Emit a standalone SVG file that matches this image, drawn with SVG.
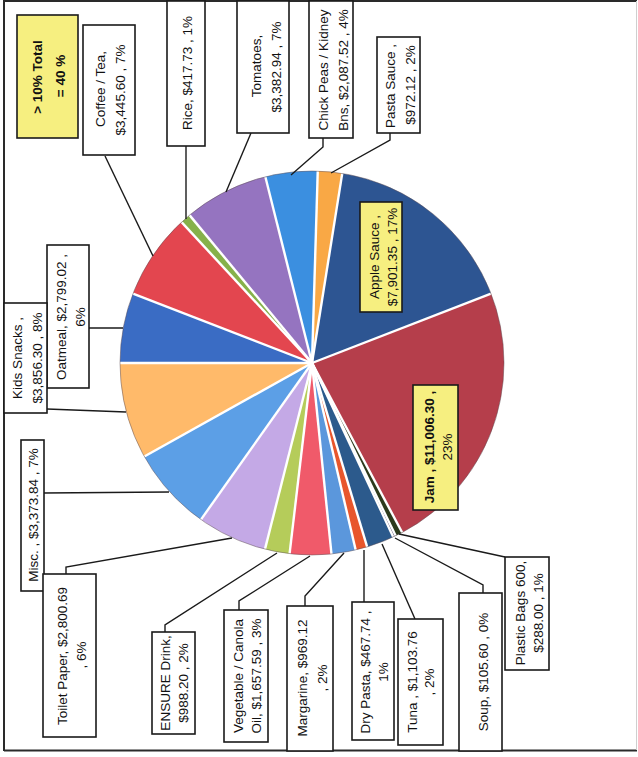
<svg xmlns="http://www.w3.org/2000/svg" width="638" height="757" viewBox="0 0 638 757">
<style>
.box{fill:#fff;stroke:#1a1a1a;stroke-width:1.6}
.ybox{fill:#f6ef80;stroke:#1a1a1a;stroke-width:1.6}
.t{font-family:"Liberation Sans",Arial,sans-serif;font-size:13.5px;fill:#111;text-anchor:middle;dominant-baseline:central}
.b{font-weight:bold}
.conn{fill:none;stroke:#1a1a1a;stroke-width:1.4}
.gap{stroke:#fff;stroke-width:2.4}
</style>
<rect width="638" height="757" fill="#fff"/>
<g id="frame" fill="none">
<path d="M4 751 L4 1 L637 1" stroke="#2a2a2a" stroke-width="2"/>
<path d="M4 750.5 L637 750.5" stroke="#2a2a2a" stroke-width="2.2"/>
<path d="M636.5 1 L636.5 750" stroke="#cfcfcf" stroke-width="1"/>
</g>
<g id="pie">
<path id="s-oatmeal" d="M312 363 L120 363 A192 192 0 0 1 132.95 293.69 Z" fill="#3a6cc4"/>
<path id="s-coffee" d="M312 363 L132.95 293.69 A192 192 0 0 1 181.56 222.11 Z" fill="#e3464f"/>
<path id="s-rice" d="M312 363 L181.56 222.11 A192 192 0 0 1 189.52 215.14 Z" fill="#86b14a"/>
<path id="s-tomatoes" d="M312 363 L189.52 215.14 A192 192 0 0 1 265.34 176.76 Z" fill="#9574c0"/>
<path id="s-chick" d="M312 363 L265.34 176.76 A192 192 0 0 1 317.75 171.09 Z" fill="#3b8fe0"/>
<path id="s-pasta" d="M312 363 L317.75 171.09 A192 192 0 0 1 342.25 173.40 Z" fill="#f9a845"/>
<path id="s-apple" d="M312 363 L342.25 173.40 A192 192 0 0 1 491.0 293.55 Z" fill="#2d5592"/>
<path id="s-jam" d="M312 363 L491.0 293.55 A192 192 0 0 1 402.17 532.51 Z" fill="#b53e4b"/>
<path id="s-plastic" d="M312 363 L402.17 532.51 A192 192 0 0 1 395.66 535.82 Z" fill="#2c3a1c"/>
<path id="s-soup" d="M312 363 L395.66 535.82 A192 192 0 0 1 393.24 536.97 Z" fill="#3a2a50"/>
<path id="s-tuna" d="M312 363 L393.24 536.97 A192 192 0 0 1 367.14 546.91 Z" fill="#2c5a8c"/>
<path id="s-drypasta" d="M312 363 L367.14 546.91 A192 192 0 0 1 355.69 549.96 Z" fill="#e8562c"/>
<path id="s-margarine" d="M312 363 L355.69 549.96 A192 192 0 0 1 331.50 554.01 Z" fill="#5b97dc"/>
<path id="s-vegoil" d="M312 363 L331.50 554.01 A192 192 0 0 1 289.59 553.69 Z" fill="#f05a6a"/>
<path id="s-ensure" d="M312 363 L289.59 553.69 A192 192 0 0 1 264.99 549.16 Z" fill="#b5cc5a"/>
<path id="s-toilet" d="M312 363 L264.99 549.16 A192 192 0 0 1 200.93 519.62 Z" fill="#c4a9e6"/>
<path id="s-misc" d="M312 363 L200.93 519.62 A192 192 0 0 1 144.32 456.53 Z" fill="#5c9fe6"/>
<path id="s-kids" d="M312 363 L144.32 456.53 A192 192 0 0 1 120 363 Z" fill="#ffba6a"/>
<g class="gap">
<line x1="312" y1="363" x2="120" y2="363"/>
<line x1="312" y1="363" x2="132.95" y2="293.69"/>
<line x1="312" y1="363" x2="181.56" y2="222.11"/>
<line x1="312" y1="363" x2="189.52" y2="215.14"/>
<line x1="312" y1="363" x2="265.34" y2="176.76"/>
<line x1="312" y1="363" x2="317.75" y2="171.09"/>
<line x1="312" y1="363" x2="342.25" y2="173.40"/>
<line x1="312" y1="363" x2="491.0" y2="293.55"/>
<line x1="312" y1="363" x2="402.17" y2="532.51"/>
<line x1="312" y1="363" x2="395.66" y2="535.82"/>
<line x1="312" y1="363" x2="393.24" y2="536.97"/>
<line x1="312" y1="363" x2="367.14" y2="546.91"/>
<line x1="312" y1="363" x2="355.69" y2="549.96"/>
<line x1="312" y1="363" x2="331.50" y2="554.01"/>
<line x1="312" y1="363" x2="289.59" y2="553.69"/>
<line x1="312" y1="363" x2="264.99" y2="549.16"/>
<line x1="312" y1="363" x2="200.93" y2="519.62"/>
<line x1="312" y1="363" x2="144.32" y2="456.53"/>
</g>
<circle cx="312" cy="363" r="192" fill="none" stroke="#5a4a50" stroke-width="0.8" stroke-opacity="0.6"/>
</g>
<g id="connectors" class="conn">
<polyline points="105,156 153,256"/>
<polyline points="186,146 186,219"/>
<polyline points="251,133 226,192"/>
<polyline points="323,138 323,147 291,175"/>
<polyline points="390,133 390,140 331,173"/>
<polyline points="89,328 123,328"/>
<polyline points="47,409 126,412"/>
<polyline points="44,493 169,492"/>
<polyline points="66,574 66,567 232,538"/>
<polyline points="165,632 165,625 277,553"/>
<polyline points="239,610 239,601 310,556"/>
<polyline points="305,606 305,596 344,553"/>
<polyline points="364,602 364,550"/>
<polyline points="415,619 382,544"/>
<polyline points="483,593 483,585 395,538"/>
<polyline points="505,557 399,534"/>
</g>
<g id="total-note">
<rect class="ybox" x="17" y="15" width="61" height="123"/>
<text class="t b" font-size="17" transform="translate(37,77) rotate(-90)">&gt; 10% Total</text>
<text class="t b" font-size="17" transform="translate(60,76) rotate(-90)">= 40 %</text>
</g>
<g id="coffee">
<rect class="box" x="83" y="25" width="52" height="130"/>
<text class="t" font-size="15" transform="translate(100,89) rotate(-90)">Coffee / Tea,</text>
<text class="t" font-size="15" transform="translate(120,90) rotate(-90)">$3,445.60 , 7%</text>
</g>
<g id="rice">
<rect class="box" x="167" y="1" width="38" height="145"/>
<text class="t" transform="translate(187,73) rotate(-90)">Rice,  $417.73 , 1%</text>
</g>
<g id="tomatoes">
<rect class="box" x="237" y="1" width="52" height="132"/>
<text class="t" transform="translate(256,66) rotate(-90)">Tomatoes,</text>
<text class="t" transform="translate(276,67) rotate(-90)">$3,382.94 , 7%</text>
</g>
<g id="chickpeas">
<rect class="box" x="309" y="1" width="44" height="137"/>
<text class="t" font-size="13" transform="translate(323,70) rotate(-90)">Chick Peas / Kidney</text>
<text class="t" font-size="13" transform="translate(343,70) rotate(-90)">Bns,  $2,087.52 , 4%</text>
</g>
<g id="pastasauce">
<rect class="box" x="377" y="37" width="43" height="96"/>
<text class="t" font-size="12.5" transform="translate(390,86) rotate(-90)">Pasta Sauce ,</text>
<text class="t" font-size="12.5" transform="translate(410,85) rotate(-90)">$972.12 , 2%</text>
</g>
<g id="oatmeal">
<rect class="box" x="47" y="245" width="42" height="143"/>
<text class="t" font-size="14.5" transform="translate(61,317) rotate(-90)">Oatmeal,  $2,799.02 ,</text>
<text class="t" font-size="14.5" transform="translate(80,317) rotate(-90)">6%</text>
</g>
<g id="kidssnacks">
<rect class="box" x="4" y="303" width="43" height="110"/>
<text class="t" transform="translate(17,358) rotate(-90)">Kids Snacks ,</text>
<text class="t" transform="translate(37,358) rotate(-90)">$3,856.30 , 8%</text>
</g>
<g id="misc">
<rect class="box" x="21" y="440" width="23" height="151"/>
<text class="t" font-size="14" transform="translate(33,515) rotate(-90)">Misc. , $3,373.84 , 7%</text>
</g>
<g id="toiletpaper">
<rect class="box" x="43" y="574" width="53" height="163"/>
<text class="t" transform="translate(62,656) rotate(-90)">Toilet Paper,  $2,800.69</text>
<text class="t" transform="translate(81,655) rotate(-90)">, 6%</text>
</g>
<g id="ensure">
<rect class="box" x="152" y="632" width="43" height="102"/>
<text class="t" font-size="13" transform="translate(165,683) rotate(-90)">ENSURE Drink,</text>
<text class="t" font-size="13" transform="translate(183,683) rotate(-90)">$988.20 ,  2%</text>
</g>
<g id="vegoil">
<rect class="box" x="224" y="610" width="44" height="132"/>
<text class="t" font-size="14" transform="translate(238,676) rotate(-90)">Vegetable / Canola</text>
<text class="t" font-size="14" transform="translate(256,676) rotate(-90)">Oil,  $1,657.59 , 3%</text>
</g>
<g id="margarine">
<rect class="box" x="287" y="606" width="46" height="145"/>
<text class="t" font-size="14.5" transform="translate(302,678) rotate(-90)">Margarine,  $969.12</text>
<text class="t" font-size="14.5" transform="translate(322,678) rotate(-90)">, 2%</text>
</g>
<g id="drypasta">
<rect class="box" x="352" y="602" width="42" height="138"/>
<text class="t" transform="translate(365,672) rotate(-90)">Dry Pasta,  $467.74 ,</text>
<text class="t" transform="translate(383,672) rotate(-90)">1%</text>
</g>
<g id="tuna">
<rect class="box" x="398" y="619" width="45" height="126"/>
<text class="t" font-size="14" transform="translate(412,682) rotate(-90)">Tuna ,  $1,103.76</text>
<text class="t" font-size="14" transform="translate(429,682) rotate(-90)">, 2%</text>
</g>
<g id="soup">
<rect class="box" x="459" y="593" width="43" height="158"/>
<text class="t" transform="translate(483,672) rotate(-90)">Soup,  $105.60 , 0%</text>
</g>
<g id="plasticbags">
<rect class="box" x="505" y="557" width="44" height="113"/>
<text class="t" font-size="13" transform="translate(520,613) rotate(-90)">Plastic Bags 600,</text>
<text class="t" font-size="13" transform="translate(538,613) rotate(-90)">$288.00 , 1%</text>
</g>
<g id="applesauce">
<rect class="ybox" x="360" y="202" width="42" height="110"/>
<text class="t" font-size="12.5" transform="translate(374,257) rotate(-90)">Apple Sauce ,</text>
<text class="t" font-size="12.5" transform="translate(392,257) rotate(-90)">$7,901.35 , 17%</text>
</g>
<g id="jam">
<rect class="ybox" x="413" y="385" width="45" height="125"/>
<text class="t b" font-size="13" transform="translate(429,447) rotate(-90)">Jam ,  $11,006.30 ,</text>
<text class="t" font-size="13" transform="translate(447,447) rotate(-90)">23%</text>
</g>
</svg>
